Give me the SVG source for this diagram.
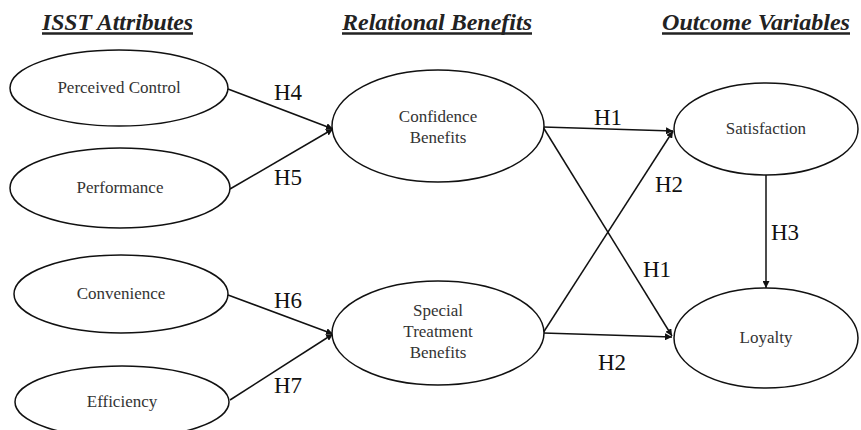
<svg xmlns="http://www.w3.org/2000/svg" width="861" height="430" viewBox="0 0 861 430">
<style>
.node ellipse{fill:#fff;stroke:#111;stroke-width:1.5}
.node text{font-size:17px;fill:#333;text-anchor:middle}
.title{font-size:24px;font-weight:bold;font-style:italic;fill:#222}
.ul{stroke:#222;stroke-width:2.5}
.edge line{stroke:#111;stroke-width:1.5;marker-end:url(#arr)}
.lbl{font-size:23px;fill:#111}
</style>
<defs>
<marker id="arr" viewBox="0 0 10 10" refX="10" refY="5" markerWidth="7" markerHeight="7" markerUnits="userSpaceOnUse" orient="auto">
<path d="M0,0 L10,5 L0,10 z" fill="#111"/>
</marker>
</defs>
<rect width="861" height="430" fill="#fff"/>
<g font-family="Liberation Serif, DejaVu Serif, serif">
<g id="titles">
<text class="title" x="42" y="30" textLength="151" lengthAdjust="spacingAndGlyphs">ISST Attributes</text>
<line class="ul" x1="42" y1="33.5" x2="193" y2="33.5"/>
<text class="title" x="342" y="30" textLength="190" lengthAdjust="spacingAndGlyphs">Relational Benefits</text>
<line class="ul" x1="342" y1="33.5" x2="532" y2="33.5"/>
<text class="title" x="662" y="30" textLength="188" lengthAdjust="spacingAndGlyphs">Outcome Variables</text>
<line class="ul" x1="662" y1="33.5" x2="850" y2="33.5"/>
</g>
<g id="edges" class="edge">
<line x1="228" y1="89" x2="333" y2="129"/>
<line x1="230" y1="189" x2="333" y2="129"/>
<line x1="228" y1="295" x2="333" y2="334"/>
<line x1="230" y1="400" x2="333" y2="334"/>
<line x1="543" y1="127" x2="673" y2="131"/>
<line x1="543" y1="127" x2="672" y2="336"/>
<line x1="543" y1="333" x2="673" y2="131"/>
<line x1="543" y1="333" x2="672" y2="337"/>
<line x1="766" y1="175" x2="766" y2="288"/>
</g>
<g id="labels">
<text class="lbl" x="274" y="100">H4</text>
<text class="lbl" x="274" y="185">H5</text>
<text class="lbl" x="274" y="308">H6</text>
<text class="lbl" x="274" y="393">H7</text>
<text class="lbl" x="594" y="125">H1</text>
<text class="lbl" x="655" y="192">H2</text>
<text class="lbl" x="643" y="277">H1</text>
<text class="lbl" x="598" y="370">H2</text>
<text class="lbl" x="771" y="240">H3</text>
</g>
<g id="perceived-control" class="node"><ellipse cx="119" cy="88" rx="109" ry="38"/><text x="119" y="93">Perceived Control</text></g>
<g id="performance" class="node"><ellipse cx="120" cy="188" rx="110" ry="40"/><text x="120" y="193">Performance</text></g>
<g id="convenience" class="node"><ellipse cx="121" cy="294" rx="107" ry="39"/><text x="121" y="299">Convenience</text></g>
<g id="efficiency" class="node"><ellipse cx="122" cy="402" rx="107" ry="36"/><text x="122" y="407">Efficiency</text></g>
<g id="confidence-benefits" class="node"><ellipse cx="438" cy="126" rx="106" ry="56"/><text x="438" y="122">Confidence</text><text x="438" y="143">Benefits</text></g>
<g id="special-treatment-benefits" class="node"><ellipse cx="438" cy="333" rx="106" ry="52"/><text x="438" y="316">Special</text><text x="438" y="337">Treatment</text><text x="438" y="358">Benefits</text></g>
<g id="satisfaction" class="node"><ellipse cx="766" cy="129" rx="92" ry="46"/><text x="766" y="134">Satisfaction</text></g>
<g id="loyalty" class="node"><ellipse cx="766" cy="338" rx="92" ry="50"/><text x="766" y="343">Loyalty</text></g>
</g>
</svg>
